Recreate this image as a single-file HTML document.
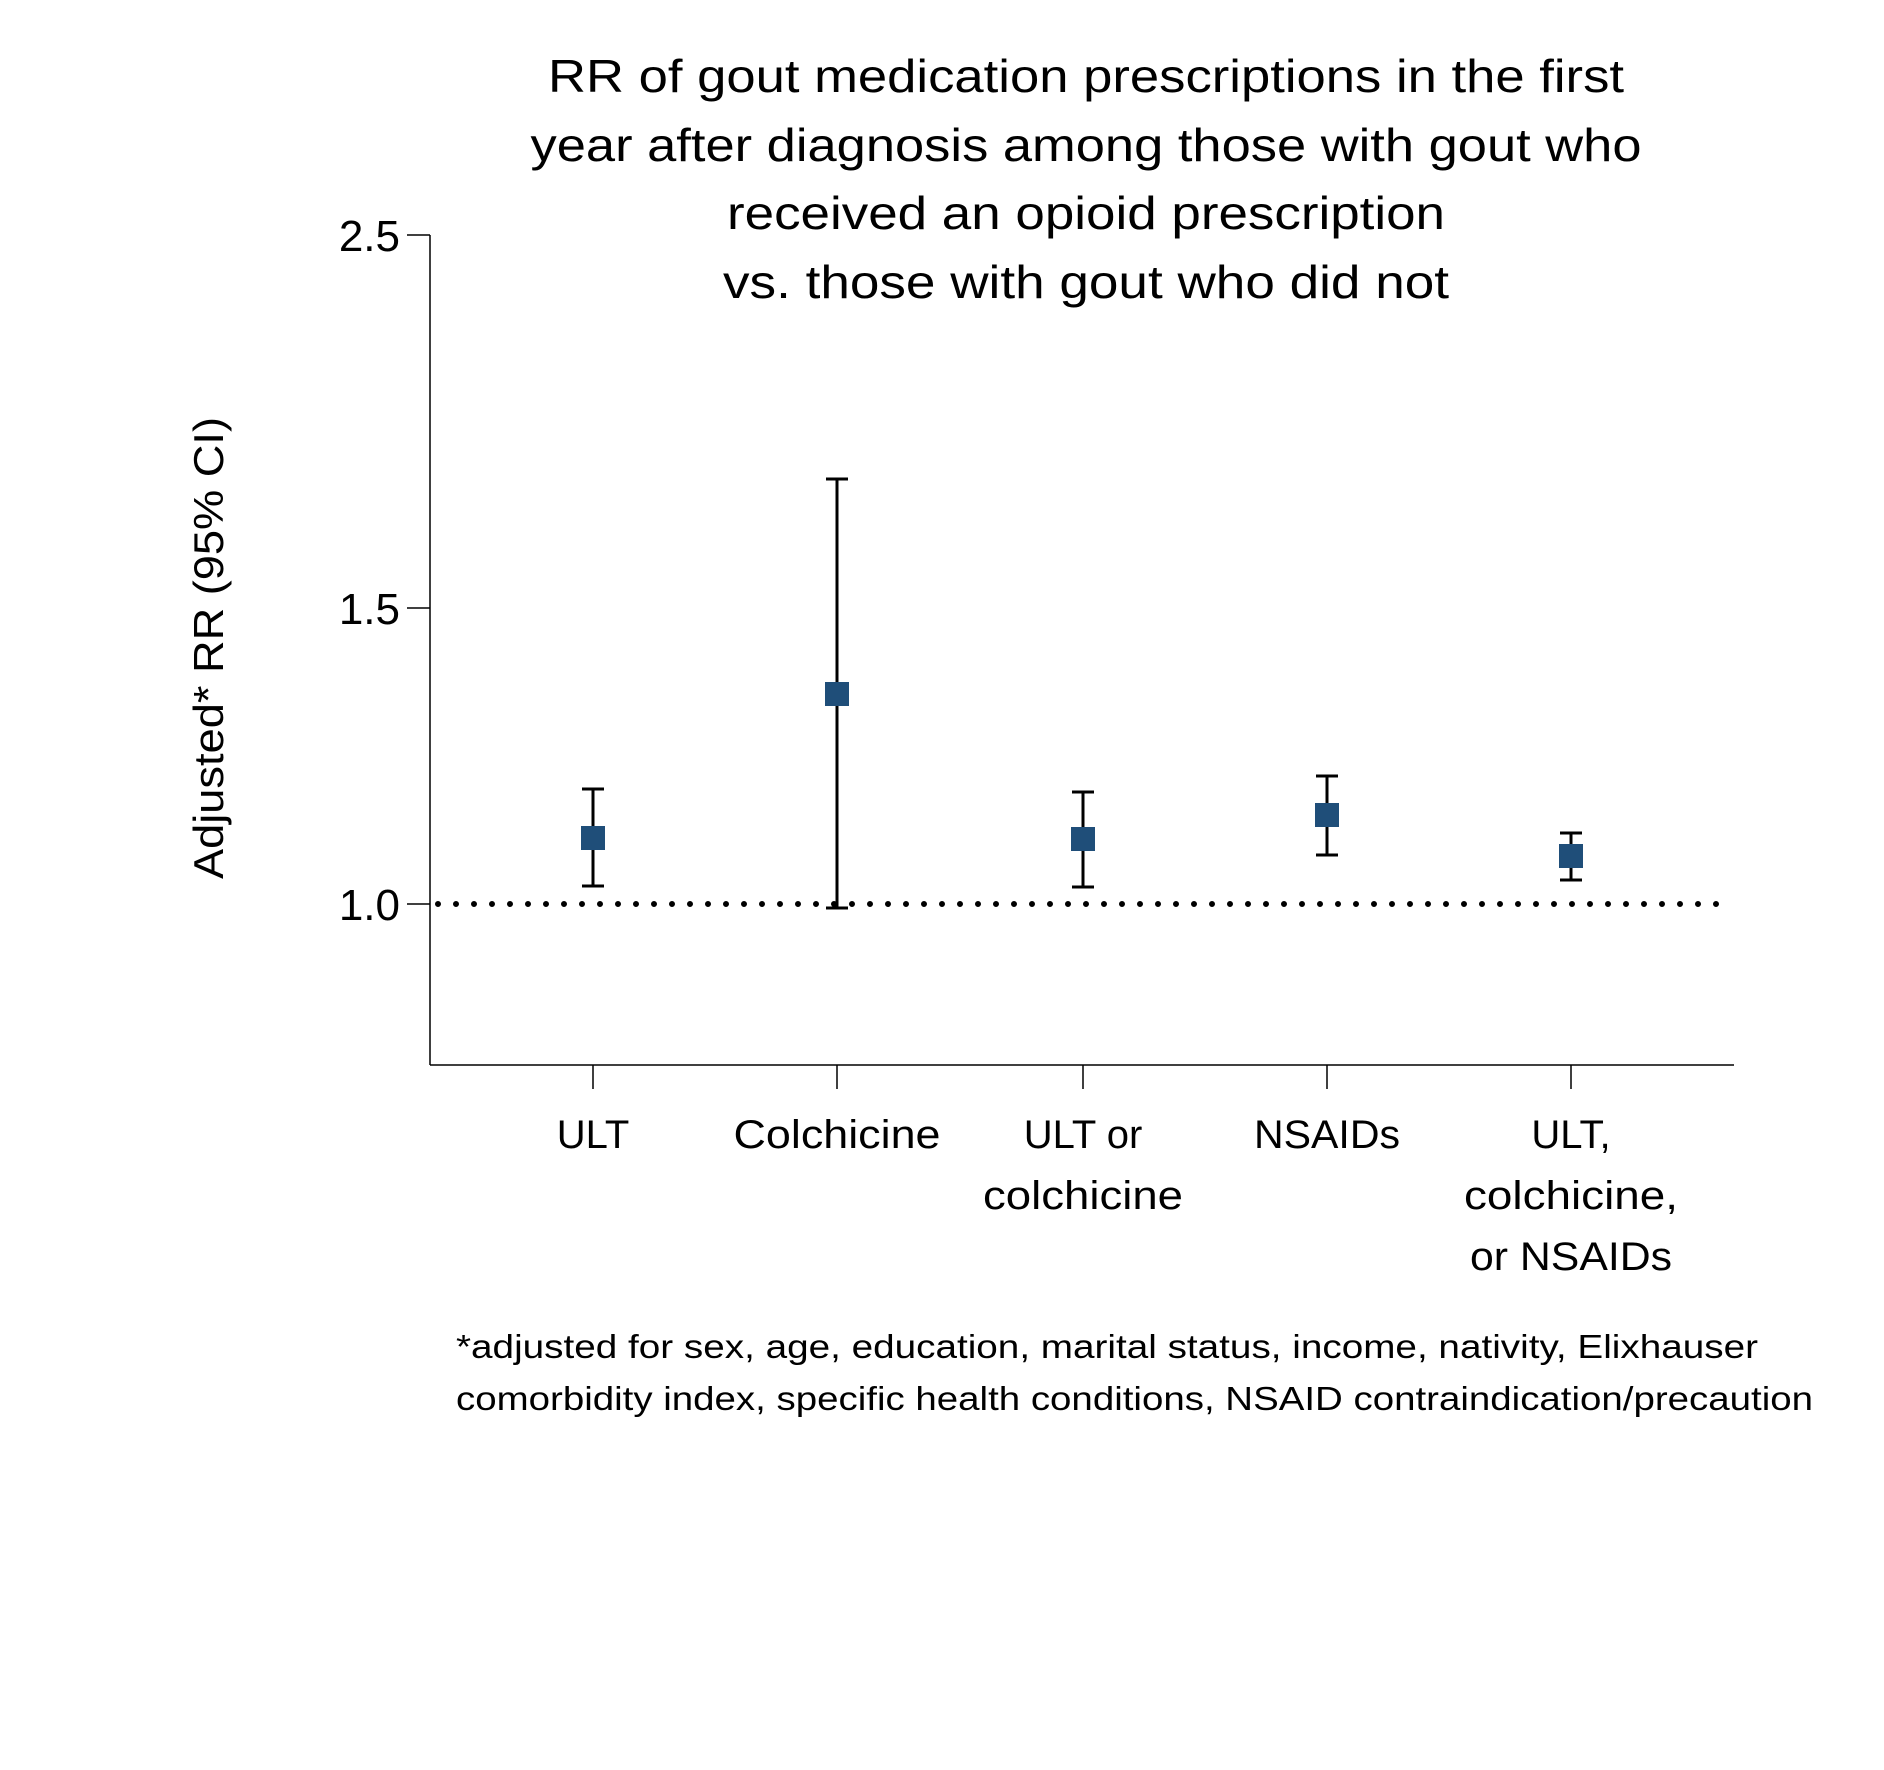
<!DOCTYPE html>
<html><head><style>body{margin:0;background:#fff}svg{display:block}text{font-family:"Liberation Sans",sans-serif;fill:#000}</style></head>
<body>
<svg width="1884" height="1770" viewBox="0 0 1884 1770" xmlns="http://www.w3.org/2000/svg">
<g transform="translate(-5,-4)">
<g font-size="46" text-anchor="middle">
<text x="1091" y="96" textLength="1076" lengthAdjust="spacingAndGlyphs">RR of gout medication prescriptions in the first</text>
<text x="1091" y="165" textLength="1111" lengthAdjust="spacingAndGlyphs">year after diagnosis among those with gout who</text>
<text x="1091" y="233" textLength="718" lengthAdjust="spacingAndGlyphs">received an opioid prescription</text>
<text x="1091" y="302" textLength="726" lengthAdjust="spacingAndGlyphs">vs. those with gout who did not</text>
</g>
<g stroke="#000" stroke-width="1.5" fill="none">
<line x1="435" y1="239" x2="435" y2="1069"/>
<line x1="435" y1="1069" x2="1739" y2="1069"/>
<line x1="412" y1="239" x2="435" y2="239"/>
<line x1="412" y1="612" x2="435" y2="612"/>
<line x1="412" y1="908" x2="435" y2="908"/>
<line x1="598" y1="1069" x2="598" y2="1093"/>
<line x1="842" y1="1069" x2="842" y2="1093"/>
<line x1="1088" y1="1069" x2="1088" y2="1093"/>
<line x1="1332" y1="1069" x2="1332" y2="1093"/>
<line x1="1576" y1="1069" x2="1576" y2="1093"/>
</g>
<line x1="443" y1="908" x2="1739" y2="908" stroke="#000" stroke-width="6" stroke-linecap="round" stroke-dasharray="0 18"/>
<g font-size="44" text-anchor="end">
<text x="405" y="255">2.5</text>
<text x="405" y="628">1.5</text>
<text x="405" y="924">1.0</text>
</g>
<text transform="translate(228,652) rotate(-90)" font-size="42" text-anchor="middle" textLength="462" lengthAdjust="spacingAndGlyphs">Adjusted* RR (95% CI)</text>
<g stroke="#000" stroke-width="3" fill="none">
<path d="M598 793V890M587 793H609M587 890H609"/>
<path d="M842 483V912M831 483H853M831 912H853"/>
<path d="M1088 796V891M1077 796H1099M1077 891H1099"/>
<path d="M1332 780V859M1321 780H1343M1321 859H1343"/>
<path d="M1576 837V884M1565 837H1587M1565 884H1587"/>
</g>
<g fill="#1f4e79">
<rect x="586" y="830" width="24" height="24"/>
<rect x="830" y="686" width="24" height="24"/>
<rect x="1076" y="831" width="24" height="24"/>
<rect x="1320" y="807" width="24" height="24"/>
<rect x="1564" y="848" width="24" height="24"/>
</g>
<g font-size="40" text-anchor="middle">
<text x="598" y="1152">ULT</text>
<text x="842" y="1152" textLength="207" lengthAdjust="spacingAndGlyphs">Colchicine</text>
<text x="1088" y="1152">ULT or</text>
<text x="1088" y="1213" textLength="200" lengthAdjust="spacingAndGlyphs">colchicine</text>
<text x="1332" y="1152" textLength="146" lengthAdjust="spacingAndGlyphs">NSAIDs</text>
<text x="1576" y="1152">ULT,</text>
<text x="1576" y="1213" textLength="214" lengthAdjust="spacingAndGlyphs">colchicine,</text>
<text x="1576" y="1274" textLength="202" lengthAdjust="spacingAndGlyphs">or NSAIDs</text>
</g>
<g font-size="33">
<text x="461" y="1362" textLength="1302" lengthAdjust="spacingAndGlyphs">*adjusted for sex, age, education, marital status, income, nativity, Elixhauser</text>
<text x="461" y="1414" textLength="1357" lengthAdjust="spacingAndGlyphs">comorbidity index, specific health conditions, NSAID contraindication/precaution</text>
</g>
</g>
</svg>
</body></html>
